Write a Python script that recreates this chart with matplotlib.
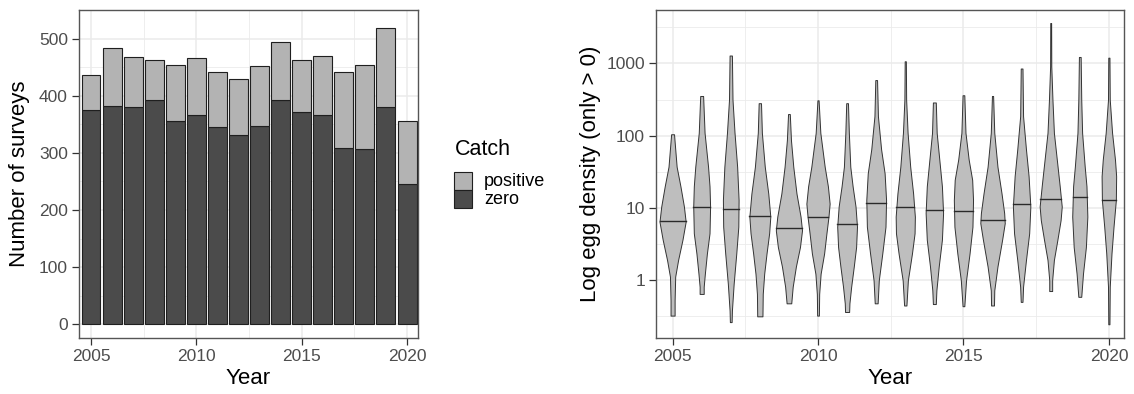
import numpy as np
import matplotlib
matplotlib.use("Agg")
import matplotlib.pyplot as plt
from matplotlib.patches import Rectangle

plt.rcParams['font.family'] = ['Liberation Sans', 'DejaVu Sans']

years = list(range(2005, 2021))

# surveys per year, split by catch
n_zero = [375, 382, 381, 392, 355, 367, 346, 331, 347, 392, 371, 367, 309, 307, 381, 246]
n_positive = [61, 101, 87, 70, 99, 99, 96, 98, 105, 102, 92, 102, 133, 146, 138, 110]
catch_labels = ['positive', 'zero']

# violin outlines: log10(density) levels (top -> bottom)
# and half widths (in years) at those levels
vio_logs = [
    [2.02, 1.57, 1.30, 1.02, 0.81, 0.56, 0.28, 0.05, -0.28, -0.49],
    [2.55, 2.04, 1.57, 1.30, 1.02, 0.65, 0.37, 0.09, -0.09, -0.19],
    [3.11, 2.50, 2.04, 1.57, 1.11, 0.74, 0.37, -0.05, -0.42, -0.58],
    [2.45, 2.04, 1.57, 1.20, 0.88, 0.65, 0.37, 0.09, -0.19, -0.50],
    [2.30, 1.94, 1.57, 1.20, 0.88, 0.69, 0.46, 0.19, -0.09, -0.32],
    [2.49, 2.04, 1.57, 1.30, 1.06, 0.88, 0.65, 0.37, 0.09, -0.19, -0.49],
    [2.45, 2.04, 1.57, 1.30, 1.02, 0.74, 0.46, 0.19, -0.09, -0.32, -0.44],
    [2.77, 2.27, 1.81, 1.48, 1.11, 0.74, 0.37, 0.00, -0.32],
    [3.03, 2.50, 2.04, 1.57, 1.20, 0.88, 0.65, 0.37, 0.00, -0.35],
    [2.46, 2.04, 1.67, 1.30, 0.93, 0.56, 0.19, -0.14, -0.33],
    [2.56, 2.04, 1.67, 1.39, 1.11, 0.74, 0.37, 0.00, -0.36],
    [2.55, 2.04, 1.57, 1.20, 0.93, 0.79, 0.56, 0.19, -0.14, -0.35],
    [2.93, 2.27, 1.81, 1.44, 1.02, 0.65, 0.28, -0.09, -0.30],
    [3.56, 2.96, 2.50, 2.04, 1.67, 1.30, 1.02, 0.83, 0.56, 0.28, 0.00, -0.15],
    [3.09, 2.50, 2.04, 1.57, 1.30, 0.88, 0.46, 0.09, -0.23],
    [3.08, 2.50, 2.04, 1.67, 1.44, 1.11, 0.74, 0.37, -0.09, -0.61],
]
vio_hw = [
    [.05, .14, .27, .39, .45, .34, .19, .09, .07, .07],
    [.05, .10, .22, .27, .29, .27, .18, .11, .07, .07],
    [.04, .06, .13, .22, .27, .26, .19, .10, .04, .03],
    [.04, .07, .17, .29, .36, .32, .23, .15, .10, .09],
    [.03, .07, .15, .26, .40, .45, .38, .24, .13, .08],
    [.02, .08, .23, .34, .40, .36, .29, .21, .09, .04, .03],
    [.03, .06, .11, .19, .29, .34, .31, .23, .14, .08, .07],
    [.03, .06, .17, .29, .34, .32, .21, .09, .05],
    [.02, .03, .08, .17, .27, .33, .32, .23, .09, .04],
    [.05, .08, .17, .26, .30, .26, .15, .07, .05],
    [.03, .07, .18, .30, .33, .31, .21, .09, .03],
    [.02, .06, .17, .31, .40, .42, .33, .17, .06, .05],
    [.03, .05, .15, .24, .30, .26, .15, .05, .03],
    [.015, .02, .06, .11, .21, .31, .38, .34, .23, .11, .05, .05],
    [.03, .05, .08, .17, .23, .26, .21, .11, .05],
    [.02, .03, .11, .21, .25, .24, .16, .09, .03, .02],
]
vio_median = [6.5, 10.2, 9.6, 7.8, 5.3, 7.4, 6.0, 11.6, 10.2, 9.4, 9.2, 6.9, 11.2, 13.3, 14.3, 13.0]

dark = '#4b4b4b'
light = '#b3b3b3'
grid_c = '#ebebeb'
tick_c = '#4d4d4d'
edge_c = '#1f1f1f'


def style_axes(ax):
    ax.set_axisbelow(True)
    ax.grid(True, which='major', color=grid_c, lw=1.1)
    ax.grid(True, which='minor', color=grid_c, lw=0.6)
    for s in ax.spines.values():
        s.set_color('#555555')
        s.set_linewidth(1.0)
    ax.tick_params(which='major', length=5, width=0.9, color='#333333',
                   labelsize=12.5, labelcolor=tick_c, pad=3)
    ax.tick_params(which='minor', length=0)


fig = plt.figure(figsize=(11.34, 3.94), dpi=100)
W, H = 1134, 394

# left: stacked bars
ax1 = fig.add_axes([79 / W, 1 - 338 / H, 339 / W, 328 / H])
style_axes(ax1)
ax1.bar(years, n_zero, width=0.9, color=dark, edgecolor=edge_c, lw=0.8)
ax1.bar(years, n_positive, bottom=n_zero, width=0.9, color=light, edgecolor=edge_c, lw=0.8)
ax1.set_xlim(2004.43, 2020.52)
ax1.set_ylim(-24, 543)
ax1.set_xticks([2005, 2010, 2015, 2020])
ax1.set_xticks([2007.5, 2012.5, 2017.5], minor=True)
ax1.set_yticks(range(0, 501, 100))
ax1.set_yticks(range(50, 551, 100), minor=True)
ax1.set_ylabel('Number of surveys', fontsize=16)
ax1.set_xlabel('Year', fontsize=16)
ax1.yaxis.set_label_coords(-0.175, 0.5)
ax1.xaxis.set_label_coords(0.5, -0.125)
ax1.xaxis.label.set_va('center')
ax1.yaxis.label.set_va('center')

# legend drawn by hand in pixel coordinates
fig.text(455 / W, 1 - 150 / H, 'Catch', fontsize=15.5, va='center', ha='left')
key_cols = [light, dark]
for i, (lab, col) in enumerate(zip(catch_labels, key_cols)):
    y0 = 172 + 18 * i
    fig.add_artist(Rectangle((454 / W, 1 - (y0 + 18) / H), 18 / W, 18 / H,
                             transform=fig.transFigure, facecolor=col,
                             edgecolor=edge_c, lw=0.8))
    fig.text(484 / W, 1 - (y0 + 9) / H, lab, fontsize=13, va='center', ha='left')

# right: violins on log scale
ax2 = fig.add_axes([656 / W, 1 - 338 / H, 468 / W, 328 / H])
ax2.set_yscale('log')
style_axes(ax2)
for yr, lv, hw, med in zip(years, vio_logs, vio_hw, vio_median):
    lv = np.array(lv)
    hw = np.array(hw)
    vals = 10 ** lv
    ax2.fill_betweenx(vals, yr - hw, yr + hw, facecolor='#bebebe',
                      edgecolor='#333333', lw=0.7, zorder=2)
    mw = np.interp(np.log10(med), lv[::-1], hw[::-1])
    ax2.plot([yr - mw, yr + mw], [med, med], color='#2a2a2a', lw=1.0, zorder=3)
ax2.set_xlim(2004.43, 2020.52)
ax2.set_ylim(10 ** -0.80, 10 ** 3.74)
ax2.set_xticks([2005, 2010, 2015, 2020])
ax2.set_xticks([2007.5, 2012.5, 2017.5], minor=True)
ax2.set_yticks([1, 10, 100, 1000])
ax2.set_yticklabels(['1', '10', '100', '1000'])
ax2.set_yticks([10 ** -0.5, 10 ** 0.5, 10 ** 1.5, 10 ** 2.5, 10 ** 3.5], minor=True)
ax2.yaxis.set_minor_formatter(matplotlib.ticker.NullFormatter())
ax2.set_ylabel('Log egg density (only > 0)', fontsize=16)
ax2.set_xlabel('Year', fontsize=16)
ax2.yaxis.set_label_coords(-0.14, 0.5)
ax2.xaxis.set_label_coords(0.5, -0.125)
ax2.xaxis.label.set_va('center')
ax2.yaxis.label.set_va('center')

fig.savefig('out.png', dpi=100)
